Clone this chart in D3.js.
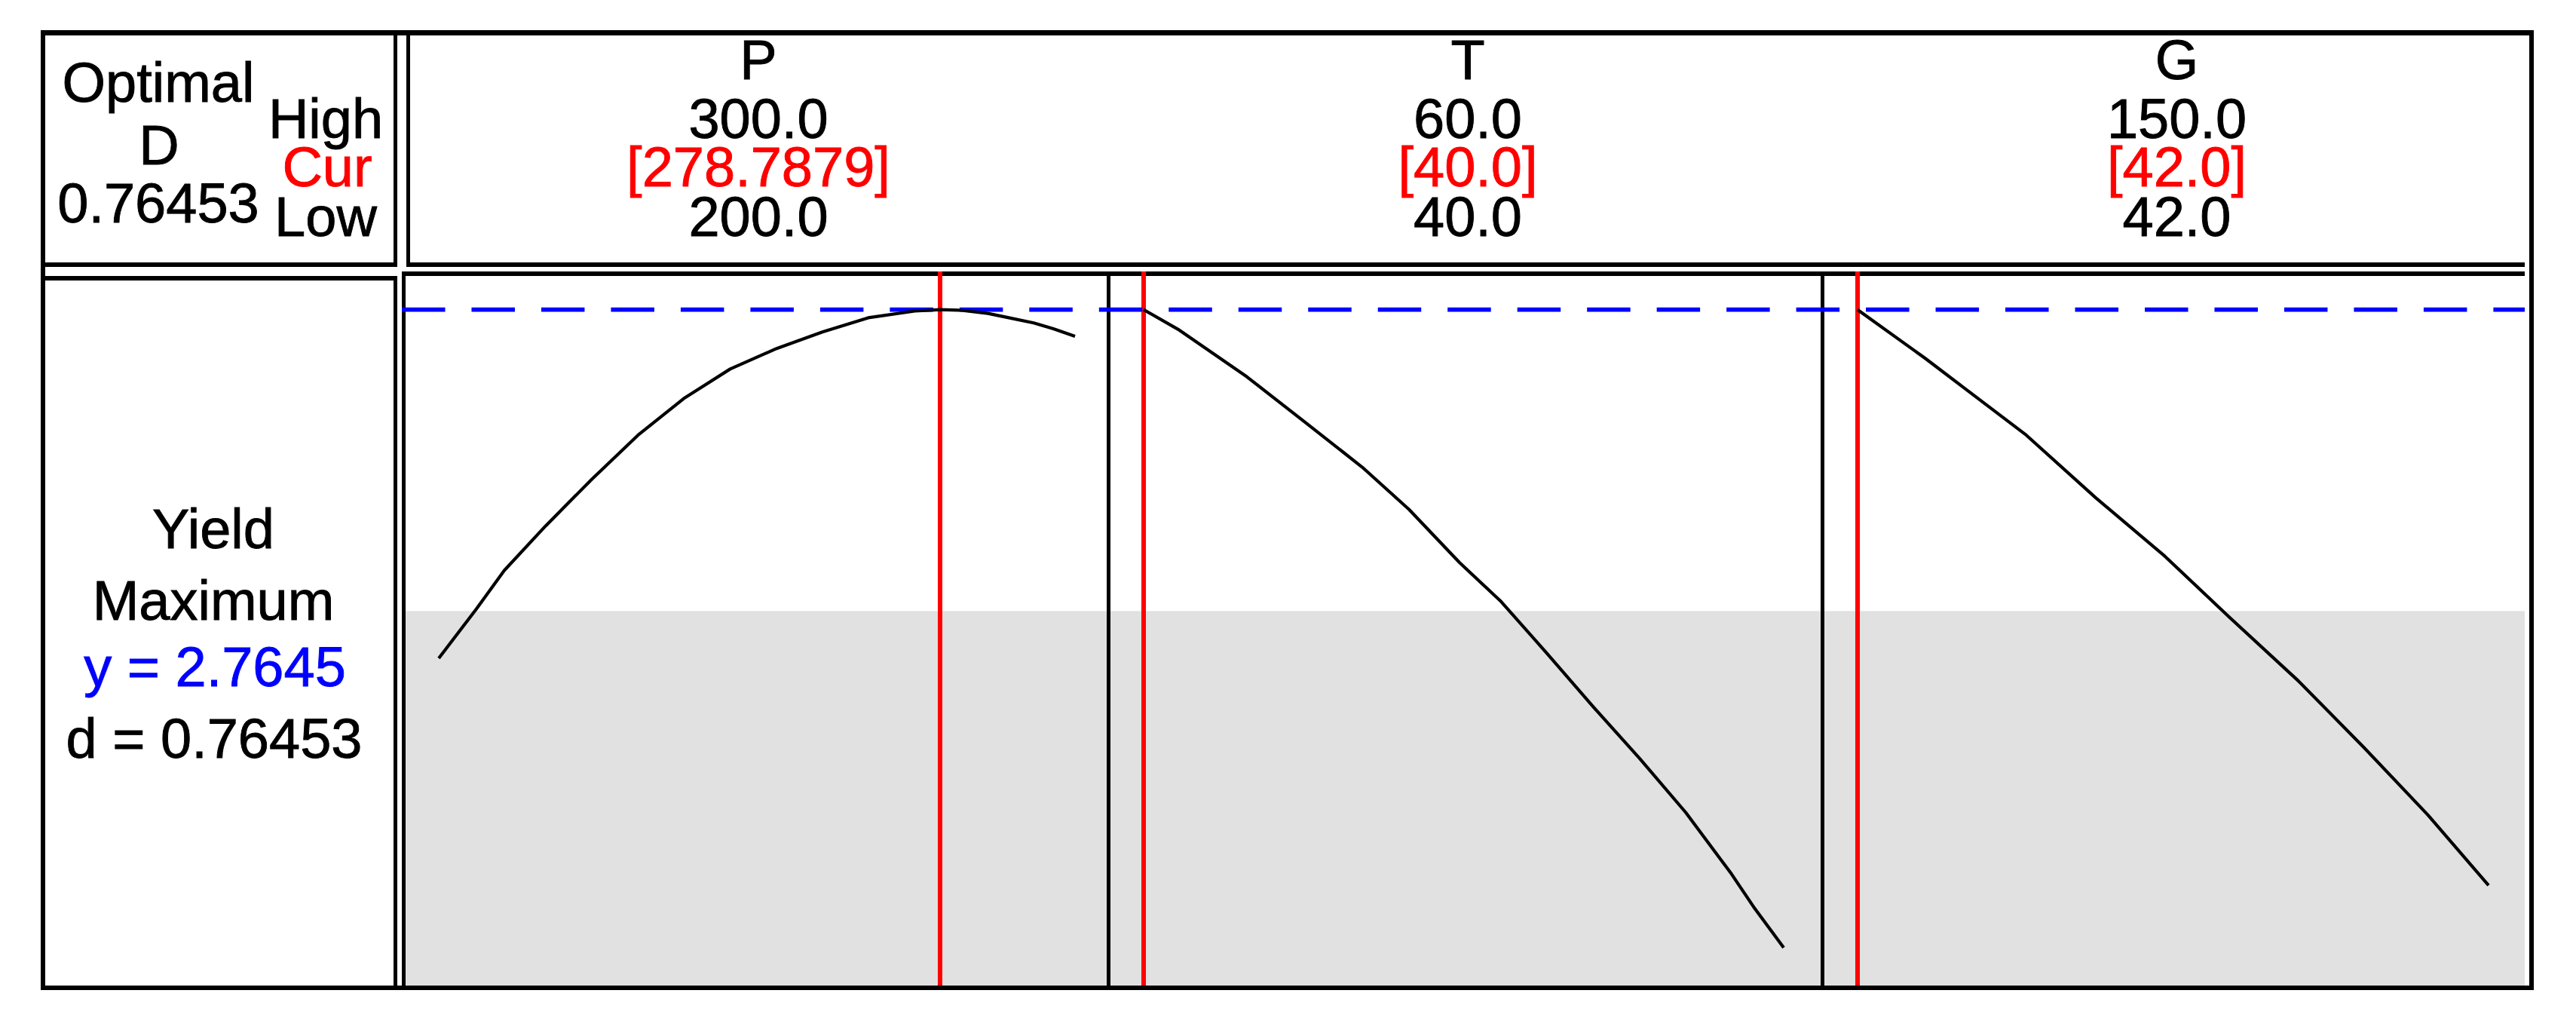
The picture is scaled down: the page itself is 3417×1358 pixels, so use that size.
<!DOCTYPE html>
<html>
<head>
<meta charset="utf-8">
<script src="https://cdn.jsdelivr.net/npm/d3@7"></script>
<style>
  html, body { margin: 0; padding: 0; background: #ffffff; }
  svg { display: block; }
  text { font-family: "Liberation Sans", Arial, sans-serif; font-size: 74px; }
</style>
</head>
<body>
<svg id="chart" width="3417" height="1358"></svg>
<script>
// ---------------- DATA ----------------
const factorNames = ["P", "T", "G"];
const factorHigh  = [300, 60, 150];
const factorLow   = [200, 40, 42];
const factorCur   = [278.7879, 40, 42];

const responseName = "Yield";
const responseGoal = "Maximum";
const predictedY   = 2.7645;
const desirability = 0.76453;
const lowerBound   = 2.0;
const yDomain      = [1.05, 2.85];

// Response traces (factor value, predicted yield)
const pValues = [200, 205.9, 210.3, 216.8, 224.1, 231.3, 238.5, 245.8, 253.1, 260.3, 267.5, 274.8, 278.7879, 282.1, 286.3, 289.3, 293.5, 296.6, 300];
const pYield  = [1.880, 2.005, 2.103, 2.216, 2.335, 2.446, 2.539, 2.614, 2.666, 2.708, 2.744, 2.761, 2.7645, 2.763, 2.755, 2.745, 2.731, 2.716, 2.697];

const tValues = [40, 41.07, 43.23, 45.11, 46.83, 48.29, 49.87, 51.17, 52.60, 54.05, 55.50, 56.94, 58.37, 59.10, 60];
const tYield  = [2.7645, 2.715, 2.594, 2.475, 2.365, 2.258, 2.123, 2.024, 1.893, 1.757, 1.626, 1.489, 1.333, 1.245, 1.146];

const gValues = [42, 53.5, 59.8, 70.9, 82.8, 94.6, 105.6, 117.5, 128.6, 139.6, 150];
const gYield  = [2.7645, 2.642, 2.571, 2.446, 2.287, 2.139, 1.985, 1.822, 1.655, 1.483, 1.304];

const traces = [
  { x: pValues, y: pYield },
  { x: tValues, y: tYield },
  { x: gValues, y: gYield }
];

// ---------------- LAYOUT ----------------
const svg = d3.select("#chart");
svg.append("rect").attr("x", 0).attr("y", 0).attr("width", 3417).attr("height", 1358).attr("fill", "#ffffff");

const plotTop = 366, plotBottom = 1307, plotLeft = 538, plotRight = 3349;
const panels = [
  { x0: 538,  x1: 1468, a0: 582,  a1: 1426 },
  { x0: 1473, x1: 2415, a0: 1517, a1: 2366 },
  { x0: 2420, x1: 3349, a0: 2464, a1: 3301 }
];

const yScale = d3.scaleLinear().domain(yDomain).range([plotBottom, plotTop]);
const xScales = panels.map((p, i) =>
  d3.scaleLinear().domain([factorLow[i], factorHigh[i]]).range([p.a0, p.a1]));

// grey band: response below the lower bound (d = 0)
svg.append("rect")
  .attr("x", plotLeft).attr("y", yScale(lowerBound))
  .attr("width", plotRight - plotLeft).attr("height", plotBottom - yScale(lowerBound))
  .attr("fill", "#e1e1e1");

// ---------------- BORDERS ----------------
const bars = [
  // outer frame
  [54, 40, 3361, 46.5], [54, 1307, 3361, 1313], [54, 40, 59.5, 1313], [3354.5, 40, 3361, 1313],
  // header left cell
  [522, 46, 527, 354], [59, 348, 527, 354],
  // header right cell
  [539, 46, 544, 354], [539, 348, 3349, 354],
  // bottom left cell
  [59, 366, 527, 372], [522, 366, 527, 1307],
  // plot frame
  [533, 360, 3349, 366], [533, 360, 538, 1307],
  // panel dividers
  [1468, 366, 1473, 1307], [2415, 366, 2420, 1307]
];
svg.append("g").selectAll("rect").data(bars).join("rect")
  .attr("x", d => d[0]).attr("y", d => d[1])
  .attr("width", d => d[2] - d[0]).attr("height", d => d[3] - d[1])
  .attr("fill", "#000").attr("shape-rendering", "crispEdges");

// ---------------- CURRENT SETTING LINES ----------------
svg.append("g").selectAll("line").data(factorCur).join("line")
  .attr("x1", (d, i) => xScales[i](d)).attr("x2", (d, i) => xScales[i](d))
  .attr("y1", 360).attr("y2", plotBottom)
  .attr("stroke", "#ff0000").attr("stroke-width", 6);

// ---------------- PREDICTED RESPONSE LINE ----------------
svg.append("line")
  .attr("x1", 533).attr("x2", plotRight)
  .attr("y1", yScale(predictedY)).attr("y2", yScale(predictedY))
  .attr("stroke", "#0000ff").attr("stroke-width", 5.8)
  .attr("stroke-dasharray", "57.5 34.98");

// ---------------- TRACES ----------------
traces.forEach((t, i) => {
  const pts = t.x.map((v, k) => [v, t.y[k]]);
  const line = d3.line().x(d => xScales[i](d[0])).y(d => yScale(d[1]));
  svg.append("path").attr("d", line(pts))
    .attr("fill", "none").attr("stroke", "#000").attr("stroke-width", 4.2)
    .attr("stroke-linejoin", "round");
});

// ---------------- TEXT ----------------
const fmt1 = d3.format(".1f");
const fmtCur = v => Number.isInteger(v) ? fmt1(v) : d3.format(".4f")(v);

const txt = (x, y, s, color) => svg.append("text")
  .attr("x", x).attr("y", y).attr("text-anchor", "middle")
  .attr("fill", color || "#000")
  .attr("stroke", color || "#000").attr("stroke-width", 0.9)
  .text(s);

// header left cell
txt(210, 135, "Optimal");
txt(211, 218, "D");
txt(210, 295, d3.format(".5f")(desirability));
txt(432, 183, "High");
txt(434, 247, "Cur", "#ff0000");
txt(432, 313, "Low");

// header per factor
factorNames.forEach((name, i) => {
  const cx = (panels[i].x0 + panels[i].x1) / 2 + 3;
  txt(cx, 105, name);
  txt(cx, 183, fmt1(factorHigh[i]));
  txt(cx, 247, "[" + fmtCur(factorCur[i]) + "]", "#ff0000");
  txt(cx, 313, fmt1(factorLow[i]));
});

// response cell
txt(283, 727, responseName);
txt(283, 822, responseGoal);
txt(285, 910, "y = " + d3.format(".4f")(predictedY), "#0000ff");
txt(284, 1005, "d = " + d3.format(".5f")(desirability));
</script>
</body>
</html>
